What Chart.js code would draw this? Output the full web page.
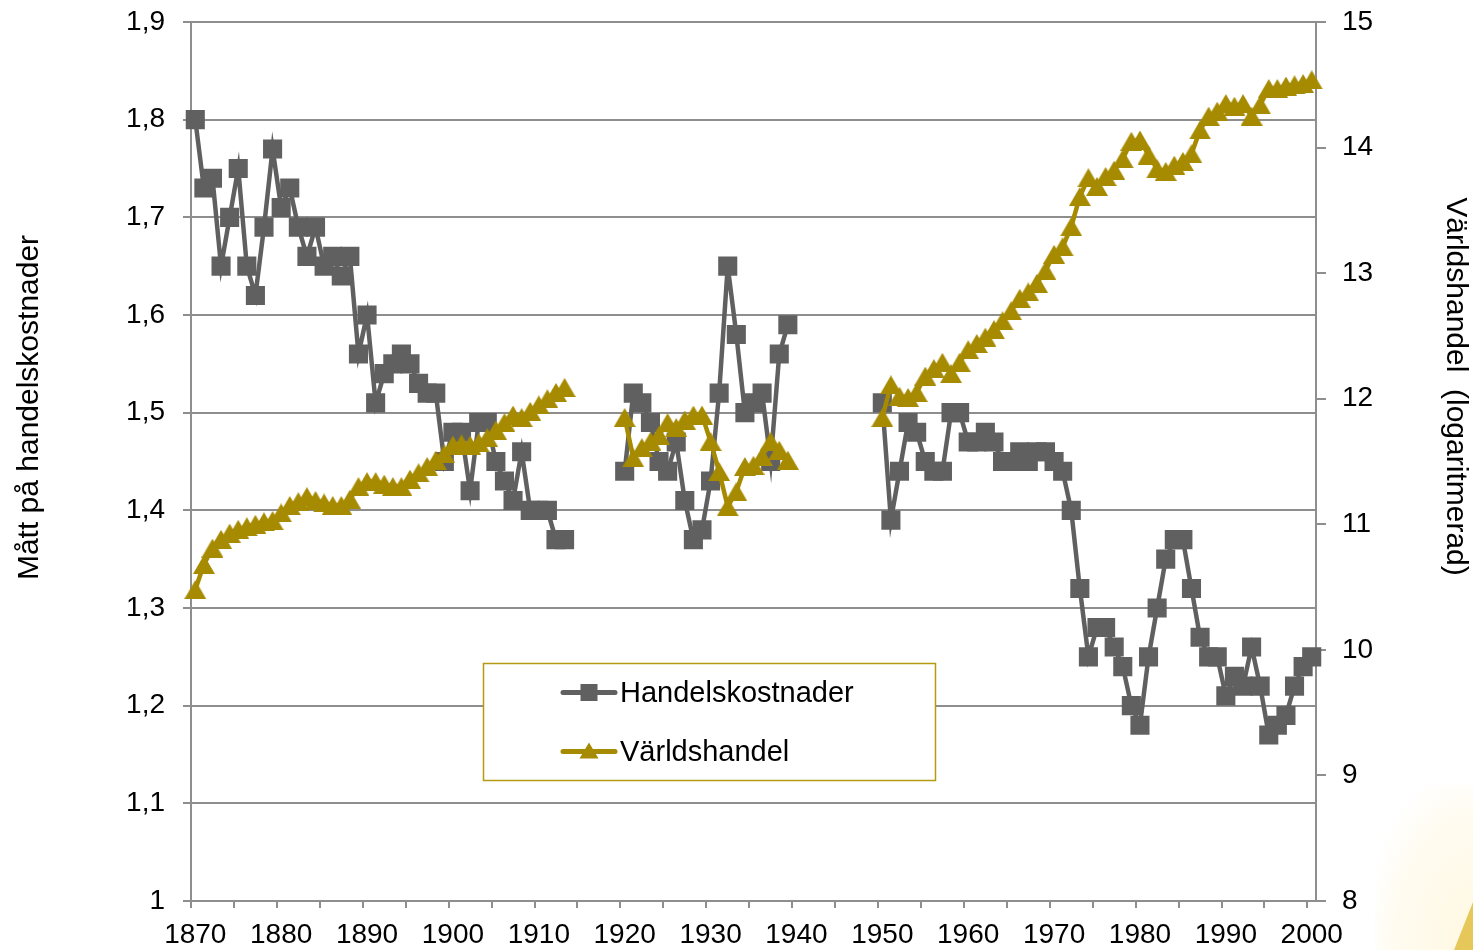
<!DOCTYPE html>
<html>
<head>
<meta charset="utf-8">
<script src="https://cdn.jsdelivr.net/npm/chart.js@4.4.1/dist/chart.umd.min.js"></script>
<style>
html, body { margin: 0; padding: 0; background: #ffffff; }
#wrap { position: relative; width: 1473px; height: 950px; overflow: hidden; background: #ffffff; }
#deco1 { position: absolute; left: 1375px; top: 785px; width: 98px; height: 165px;
  background: radial-gradient(ellipse at 100% 100%, #FFF8E2 0%, #FFFBEF 55%, rgba(255,255,255,0) 80%); }
#deco2 { position: absolute; left: 1454px; top: 902px; width: 19px; height: 48px; background: #E6C85A;
  clip-path: polygon(100% 0, 100% 100%, 0 100%); }
canvas { position: absolute; left: 0; top: 0; }
</style>
</head>
<body>
<div id="wrap">
  <div id="deco1"></div>
  <div id="deco2"></div>
  <canvas id="c" width="1473" height="950" style="width:1473px;height:950px"></canvas>
</div>
<script>
// ---------- categories ----------
const years = [
  '1870','1871','1872','1873','1874','1875','1876','1877','1878','1879',
  '1880','1881','1882','1883','1884','1885','1886','1887','1888','1889',
  '1890','1891','1892','1893','1894','1895','1896','1897','1898','1899',
  '1900','1901','1902','1903','1904','1905','1906','1907','1908','1909',
  '1910','1911','1912','1913','1914','1915','1916','1917','1918','1919',
  '1920','1921','1922','1923','1924','1925','1926','1927','1928','1929',
  '1930','1931','1932','1933','1934','1935','1936','1937','1938','1939',
  '1940','1941','1942','1943','1944','1945','1946','1947','1948','1949',
  '1950','1951','1952','1953','1954','1955','1956','1957','1958','1959',
  '1960','1961','1962','1963','1964','1965','1966','1967','1968','1969',
  '1970','1971','1972','1973','1974','1975','1976','1977','1978','1979',
  '1980','1981','1982','1983','1984','1985','1986','1987','1988','1989',
  '1990','1991','1992','1993','1994','1995','1996','1997','1998','1999',
  '2000'
];

// ---------- tick labels ----------
const xTickLabels = ['1870','1880','1890','1900','1910','1920','1930','1940','1950','1960','1970','1980','1990','2000'];

// ---------- series: Handelskostnader (left axis) ----------
const handelskostnader = [
  1.80, 1.73, 1.74, 1.65, 1.70, 1.75, 1.65, 1.62, 1.69, 1.77,
  1.71, 1.73, 1.69, 1.66, 1.69, 1.65, 1.66, 1.64, 1.66, 1.56,
  1.60, 1.51, 1.54, 1.55, 1.56, 1.55, 1.53, 1.52, 1.52, 1.45,
  1.48, 1.48, 1.42, 1.49, 1.49, 1.45, 1.43, 1.41, 1.46, 1.40,
  1.40, 1.40, 1.37, 1.37, null, null, null, null, null, null,
  1.44, 1.52, 1.51, 1.49, 1.45, 1.44, 1.47, 1.41, 1.37, 1.38,
  1.43, 1.52, 1.65, 1.58, 1.50, 1.51, 1.52, 1.45, 1.56, 1.59,
  null, null, null, null, null, null, null, null, null, null,
  1.51, 1.39, 1.44, 1.49, 1.48, 1.45, 1.44, 1.44, 1.50, 1.50,
  1.47, 1.47, 1.48, 1.47, 1.45, 1.45, 1.46, 1.45, 1.46, 1.46,
  1.45, 1.44, 1.40, 1.32, 1.25, 1.28, 1.28, 1.26, 1.24, 1.20,
  1.18, 1.25, 1.30, 1.35, 1.37, 1.37, 1.32, 1.27, 1.25, 1.25,
  1.21, 1.23, 1.22, 1.26, 1.22, 1.17, 1.18, 1.19, 1.22, 1.24,
  1.25
];

// ---------- series: Världshandel (right axis, logaritmerad) ----------
const varldshandel = [
  10.48, 10.68, 10.81, 10.88, 10.93, 10.96, 10.98, 11.00, 11.02, 11.03,
  11.09, 11.15, 11.18, 11.22, 11.19, 11.17, 11.15, 11.15, 11.20, 11.30,
  11.34, 11.34, 11.32, 11.30, 11.30, 11.36, 11.41, 11.46, 11.51, 11.56,
  11.63, 11.64, 11.63, 11.65, 11.69, 11.75, 11.81, 11.87, 11.85, 11.90,
  11.95, 12.00, 12.05, 12.09, null, null, null, null, null, null,
  11.85, 11.53, 11.61, 11.66, 11.71, 11.81, 11.77, 11.83, 11.87, 11.87,
  11.66, 11.42, 11.14, 11.26, 11.46, 11.47, 11.54, 11.66, 11.59, 11.51,
  null, null, null, null, null, null, null, null, null, null,
  11.85, 12.11, 12.02, 12.01, 12.05, 12.18, 12.24, 12.29, 12.20, 12.29,
  12.39, 12.44, 12.49, 12.55, 12.62, 12.70, 12.80, 12.85, 12.92, 13.02,
  13.15, 13.21, 13.37, 13.61, 13.76, 13.69, 13.77, 13.82, 13.91, 14.05,
  14.06, 13.94, 13.83, 13.81, 13.86, 13.89, 13.95, 14.14, 14.25, 14.29,
  14.35, 14.33, 14.35, 14.25, 14.34, 14.47, 14.47, 14.49, 14.50, 14.51,
  14.54
];

const seriesNames = ['Handelskostnader', 'Världshandel'];
const axisTitleLeft = 'Mått på handelskostnader';
const axisTitleRight = 'Världshandel  (logaritmerad)';

// ---------- styles ----------
const GREY = '#606060';
const GOLD = '#A68A00';
const GRID = '#8E8E8E';
const FONT = '"Liberation Sans", Arial, Helvetica, sans-serif';

Chart.defaults.font.family = FONT;
Chart.defaults.color = '#000000';

function makeTriangle(color, w, h) {
  const c = document.createElement('canvas');
  c.width = w; c.height = h;
  const g = c.getContext('2d');
  g.fillStyle = color;
  g.beginPath();
  g.moveTo(w / 2, 0);
  g.lineTo(w, h);
  g.lineTo(0, h);
  g.closePath();
  g.fill();
  return c;
}
const triMarker = makeTriangle(GOLD, 22, 19);

// legend drawn as a boxed overlay inside the plot, plus rotated axis titles
const boxLegend = {
  id: 'boxLegend',
  afterDraw(chart) {
    const ctx = chart.ctx;
    const L = 483, T = 663, W = 452, H = 117;
    ctx.save();
    ctx.fillStyle = '#ffffff';
    ctx.fillRect(L, T, W, H);
    ctx.strokeStyle = '#B39A10';
    ctx.lineWidth = 1.5;
    ctx.strokeRect(L + 0.5, T + 0.5, W, H);
    const rowY = [692.5, 751.5];
    chart.data.datasets.forEach((ds, i) => {
      const y = rowY[i];
      ctx.strokeStyle = ds.borderColor;
      ctx.lineWidth = 5;
      ctx.lineCap = 'round';
      ctx.beginPath();
      ctx.moveTo(563, y);
      ctx.lineTo(615, y);
      ctx.stroke();
      ctx.fillStyle = ds.borderColor;
      if (i === 0) {
        ctx.fillRect(589 - 8.5, y - 8.5, 17, 17);
      } else {
        ctx.beginPath();
        ctx.moveTo(589, y - 9);
        ctx.lineTo(598.5, y + 7);
        ctx.lineTo(579.5, y + 7);
        ctx.closePath();
        ctx.fill();
      }
      ctx.fillStyle = '#000000';
      ctx.font = '29px ' + FONT;
      ctx.textBaseline = 'middle';
      ctx.textAlign = 'left';
      ctx.fillText(ds.label, 620, y + 1);
    });
    // axis titles
    ctx.font = '30px ' + FONT;
    ctx.textAlign = 'center';
    ctx.textBaseline = 'alphabetic';
    ctx.fillStyle = '#000000';
    ctx.save();
    ctx.translate(38, 407.5);
    ctx.rotate(-Math.PI / 2);
    ctx.fillText(axisTitleLeft, 0, 0);
    ctx.restore();
    ctx.save();
    ctx.translate(1447, 386.5);
    ctx.rotate(Math.PI / 2);
    ctx.fillText(axisTitleRight, 0, 0);
    ctx.restore();
    ctx.restore();
  }
};

function fixVertical(width) {
  return function (scale) {
    scale.width = width;
    scale.paddingTop = 0;
    scale.paddingBottom = 0;
  };
}

new Chart(document.getElementById('c'), {
  type: 'line',
  data: {
    labels: years,
    datasets: [
      {
        label: seriesNames[0],
        data: handelskostnader,
        yAxisID: 'y',
        order: 1,
        borderColor: GREY,
        backgroundColor: GREY,
        borderWidth: 4.5,
        pointStyle: 'rect',
        pointRadius: 13.5,
        pointBorderWidth: 0,
        pointBackgroundColor: GREY,
        tension: 0,
        spanGaps: false,
        fill: false
      },
      {
        label: seriesNames[1],
        data: varldshandel,
        yAxisID: 'y1',
        order: 0,
        borderColor: GOLD,
        backgroundColor: GOLD,
        borderWidth: 4.5,
        pointStyle: triMarker,
        pointRadius: 10,
        pointBorderWidth: 0,
        pointBackgroundColor: GOLD,
        tension: 0,
        spanGaps: false,
        fill: false
      }
    ]
  },
  options: {
    responsive: false,
    animation: false,
    events: [],
    layout: { padding: { top: 22, left: 0, right: 0, bottom: 0 } },
    plugins: {
      legend: { display: false },
      tooltip: { enabled: false },
      title: { display: false }
    },
    scales: {
      x: {
        type: 'category',
        offset: true,
        afterFit(scale) { scale.height = 49; scale.paddingLeft = 0; scale.paddingRight = 0; },
        grid: {
          offset: true,
          drawOnChartArea: false,
          drawTicks: true,
          tickLength: 7,
          lineWidth: 2,
          color: (c) => (c.index % 5 === 0 ? GRID : 'rgba(0,0,0,0)')
        },
        border: { display: true, color: GRID, width: 2 },
        ticks: {
          autoSkip: false,
          maxRotation: 0,
          minRotation: 0,
          padding: 10,
          color: '#000000',
          font: { size: 28 },
          callback(value) {
            const lab = this.getLabelForValue(value);
            return xTickLabels.includes(lab) ? lab : '';
          }
        }
      },
      y: {
        type: 'linear',
        position: 'left',
        min: 1,
        max: 1.9,
        afterFit: fixVertical(191),
        grid: { color: GRID, lineWidth: 2, tickLength: 8, drawTicks: true },
        border: { display: true, color: GRID, width: 2 },
        ticks: {
          stepSize: 0.1,
          padding: 18,
          color: '#000000',
          font: { size: 28 },
          callback(v) { return Math.abs(v - 1) < 1e-9 ? '1' : Number(v).toFixed(1).replace('.', ','); }
        }
      },
      y1: {
        type: 'linear',
        position: 'right',
        min: 8,
        max: 15,
        afterFit: fixVertical(157),
        grid: { drawOnChartArea: false, color: GRID, lineWidth: 2, tickLength: 10, drawTicks: true },
        border: { display: true, color: GRID, width: 2 },
        ticks: {
          stepSize: 1,
          padding: 16,
          color: '#000000',
          font: { size: 28 },
          callback(v) { return String(v); }
        }
      }
    }
  },
  plugins: [boxLegend]
});
</script>
</body>
</html>
